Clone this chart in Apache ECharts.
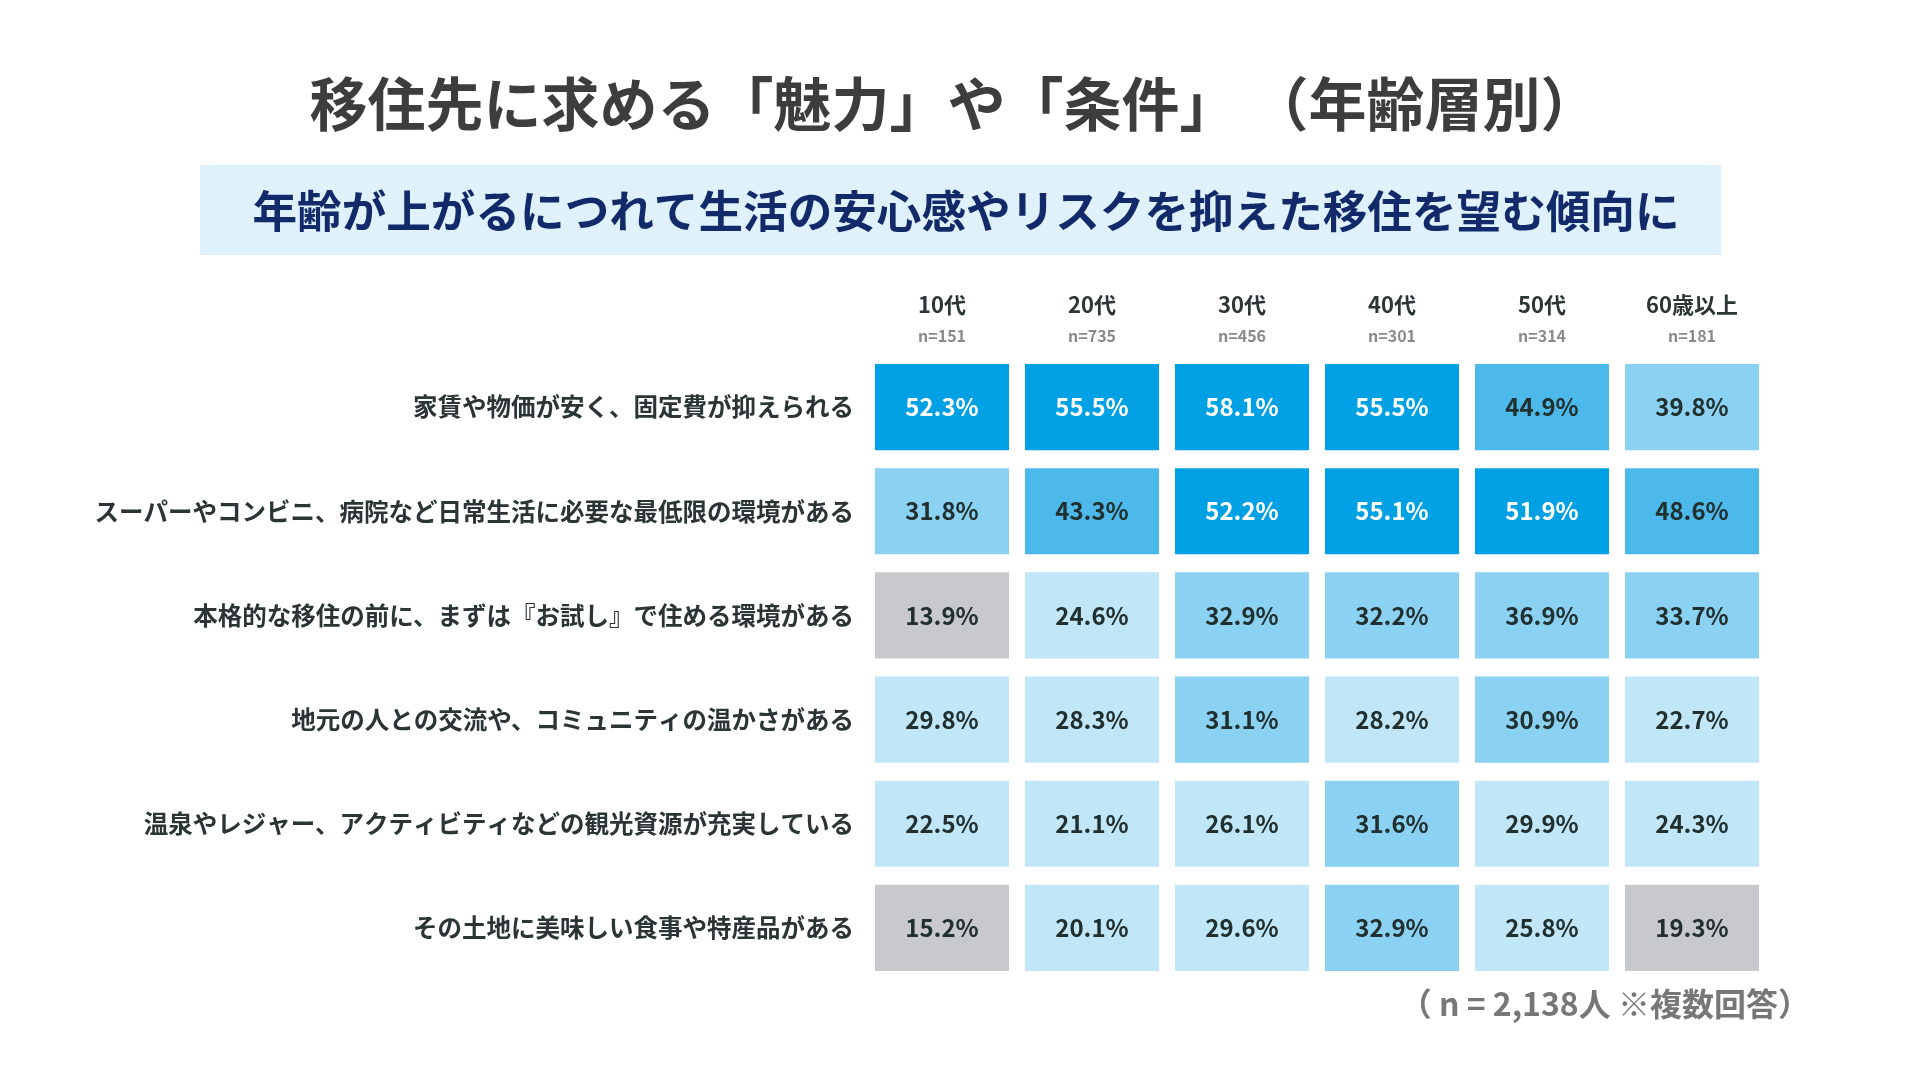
<!DOCTYPE html>
<html>
<head>
<meta charset="utf-8">
<script src="https://cdn.jsdelivr.net/npm/echarts@6/dist/echarts.min.js"></script>
<style>
  html, body { margin: 0; padding: 0; background: #fff; }
  #chart { width: 1920px; height: 1080px; }
</style>
</head>
<body>
<div id="chart"></div>
<script>
// column headers
const ageGroups = ['10代', '20代', '30代', '40代', '50代', '60歳以上'];
const sampleSizes = [151, 735, 456, 301, 314, 181];

// row labels (top to bottom)
const reasons = [
  '家賃や物価が安く、固定費が抑えられる',
  'スーパーやコンビニ、病院など日常生活に必要な最低限の環境がある',
  '本格的な移住の前に、まずは『お試し』で住める環境がある',
  '地元の人との交流や、コミュニティの温かさがある',
  '温泉やレジャー、アクティビティなどの観光資源が充実している',
  'その土地に美味しい食事や特産品がある'
];

// % per age group, one array per row
const lowCost     = [52.3, 55.5, 58.1, 55.5, 44.9, 39.8];
const dailyNeeds  = [31.8, 43.3, 52.2, 55.1, 51.9, 48.6];
const trialStay   = [13.9, 24.6, 32.9, 32.2, 36.9, 33.7];
const community   = [29.8, 28.3, 31.1, 28.2, 30.9, 22.7];
const leisure     = [22.5, 21.1, 26.1, 31.6, 29.9, 24.3];
const localFood   = [15.2, 20.1, 29.6, 32.9, 25.8, 19.3];
const rows = [lowCost, dailyNeeds, trialStay, community, leisure, localFood];

const totalN = '2,138';

const FONT = '"Noto Sans CJK JP", "Noto Sans", sans-serif';

const cells = [];
rows.forEach(function (vals, r) {
  vals.forEach(function (v, c) { cells.push([c, r, v]); });
});

const chart = echarts.init(document.getElementById('chart'));

chart.setOption({
  animation: false,
  backgroundColor: '#ffffff',
  textStyle: { fontFamily: FONT },
  graphic: [
    {
      type: 'text', x: 954, y: 104,
      style: {
        text: '移住先に求める「魅力」や「条件」 （年齢層別）',
        fill: '#3d3d3d', font: 'bold 58px ' + FONT,
        align: 'center', verticalAlign: 'middle'
      }
    },
    {
      type: 'rect', shape: { x: 200, y: 165, width: 1521, height: 90 },
      style: { fill: '#dff2fc' }
    },
    {
      type: 'text', x: 966, y: 211,
      style: {
        text: '年齢が上がるにつれて生活の安心感やリスクを抑えた移住を望む傾向に',
        fill: '#12296a', font: 'bold 44.6px ' + FONT,
        align: 'center', verticalAlign: 'middle'
      }
    },
    {
      type: 'text', x: 1810, y: 1004,
      style: {
        text: '（ n = ' + totalN + '人 ※複数回答）',
        fill: '#777777', font: 'bold 32px ' + FONT,
        align: 'right', verticalAlign: 'middle'
      }
    }
  ],
  grid: { left: 867, right: 153, top: 355, bottom: 100 },
  xAxis: {
    type: 'category',
    position: 'top',
    data: ageGroups,
    axisLine: { show: false },
    axisTick: { show: false },
    splitLine: { show: false },
    axisLabel: {
      margin: 4,
      interval: 0,
      formatter: function (val, i) {
        return '{a|' + val + '}\n{b|n=' + sampleSizes[i] + '}';
      },
      rich: {
        a: { fontSize: 22, fontWeight: 'bold', color: '#2d3636', lineHeight: 32, fontFamily: FONT },
        b: { fontSize: 16, fontWeight: 'bold', color: '#8a8a8a', lineHeight: 30, fontFamily: FONT }
      }
    }
  },
  yAxis: {
    type: 'category',
    inverse: true,
    data: reasons,
    axisLine: { show: false },
    axisTick: { show: false },
    splitLine: { show: false },
    axisLabel: {
      margin: 13,
      fontSize: 24.5,
      fontWeight: 'bold',
      color: '#2b3535',
      fontFamily: FONT
    }
  },
  visualMap: {
    show: false,
    type: 'piecewise',
    dimension: 2,
    pieces: [
      { lt: 20, color: '#c8c9cc' },
      { gte: 20, lt: 30, color: '#c1e6f8' },
      { gte: 30, lt: 40, color: '#8ad1f2' },
      { gte: 40, lt: 50, color: '#4cb9ea' },
      { gte: 50, color: '#00a0e4' }
    ]
  },
  series: [{
    type: 'custom',
    data: cells,
    encode: { x: 0, y: 1 },
    renderItem: function (params, api) {
      const v = api.value(2);
      const c = api.coord([api.value(0), api.value(1)]);
      const s = api.size([1, 1]);
      const w = s[0] - 16, h = s[1] - 18;
      return {
        type: 'group',
        children: [
          {
            type: 'rect',
            shape: { x: c[0] - w / 2, y: c[1] - h / 2, width: w, height: h },
            style: { fill: api.visual('color') }
          },
          {
            type: 'text',
            x: c[0], y: c[1],
            style: {
              text: v.toFixed(1) + '%',
              fill: v >= 50 ? '#ffffff' : '#21302f',
              font: 'bold 24px ' + FONT,
              align: 'center', verticalAlign: 'middle'
            }
          }
        ]
      };
    }
  }]
});
</script>
</body>
</html>
